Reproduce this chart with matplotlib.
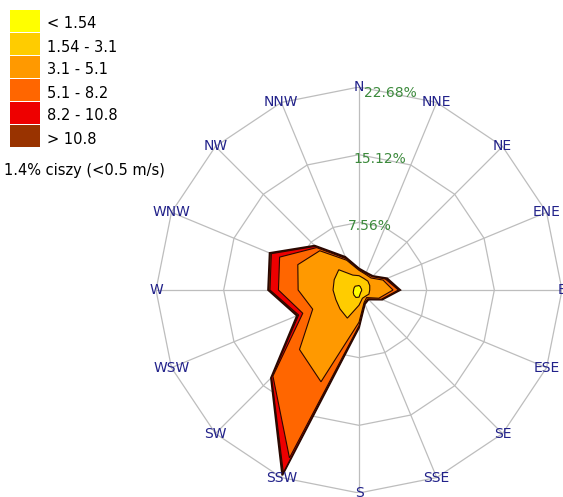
import numpy as np
import matplotlib
matplotlib.use("Agg")
from matplotlib import pyplot as plt
from matplotlib.patches import Rectangle

# wind directions, clockwise from north
dirs = ['N', 'NNE', 'NE', 'ENE', 'E', 'ESE', 'SE', 'SSE',
        'S', 'SSW', 'SW', 'WSW', 'W', 'WNW', 'NW', 'NNW']

# speed classes (m/s)
classes = ['< 1.54', '1.54 - 3.1', '3.1 - 5.1', '5.1 - 8.2', '8.2 - 10.8', '> 10.8']
colors = ['#ffff00', '#ffcc00', '#ff9900', '#ff6600', '#ee0000', '#993300']

# frequency [%] of each class per direction
f_lt154 = [0.5, 0.4, 0.3, 0.3, 0.3, 0.3, 0.3, 0.4, 0.8, 0.9, 0.8, 0.7, 0.6, 0.6, 0.6, 0.5]
f_154_31 = [1.1, 1.0, 1.1, 1.0, 0.9, 0.9, 0.7, 0.6, 0.9, 2.5, 2.2, 2.1, 2.3, 2.4, 2.6, 1.3]
f_31_51 = [0.6, 0.5, 0.5, 1.6, 2.6, 1.2, 0.2, 0.5, 1.9, 7.7, 6.4, 2.8, 3.9, 4.4, 3.0, 1.8]
f_51_82 = [0.1, 0.1, 0.2, 0.3, 0.6, 0.3, 0.2, 0.1, 0.4, 9.2, 4.2, 1.2, 2.2, 2.2, 0.5, 0.2]
f_82_108 = [0.05, 0.05, 0.05, 0.1, 0.1, 0.05, 0.05, 0.05, 0.1, 1.8, 0.2, 0.5, 0.95, 1.0, 0.2, 0.1]
f_gt108 = [0.05, 0.05, 0.05, 0.1, 0.1, 0.05, 0.05, 0.05, 0.1, 0.3, 0.1, 0.2, 0.2, 0.2, 0.1, 0.1]

calm_text = '1.4% ciszy (<0.5 m/s)'
rings = [7.56, 15.12, 22.68]
rmax = 22.68

W, H = 563, 497
fig = plt.figure(figsize=(W / 100, H / 100), dpi=100)
cx, cy, R = 359, 290, 203
ax = fig.add_axes([(cx - R) / W, 1 - (cy + R) / H, 2 * R / W, 2 * R / H])
ax.set_xlim(-rmax, rmax)
ax.set_ylim(-rmax, rmax)
ax.axis('off')

theta = np.deg2rad(np.arange(16) * 22.5)
tc = np.append(theta, theta[0])

# grid: polygon rings and spokes
for r in rings:
    ax.plot(r * np.sin(tc), r * np.cos(tc), color='#bdbdbd', lw=0.9, zorder=1)
for t in theta:
    ax.plot([0, rmax * np.sin(t)], [0, rmax * np.cos(t)], color='#bdbdbd', lw=0.9, zorder=1)

# stacked rose, outer class drawn first
data = np.array([f_lt154, f_154_31, f_31_51, f_51_82, f_82_108, f_gt108])
cum = np.cumsum(data, axis=0)
for i in range(len(classes) - 1, -1, -1):
    r = cum[i]
    lw = 1.4 if i == len(classes) - 1 else 0.8
    ax.fill(r * np.sin(theta), r * np.cos(theta), facecolor=colors[i],
            edgecolor='#2a0800', lw=lw, zorder=2 + (5 - i))

# direction labels
for t, d in zip(theta, dirs):
    ax.text(rmax * np.sin(t), rmax * np.cos(t), d, ha='center', va='center',
            color='#22228a', fontsize=10, clip_on=False, zorder=10)

# ring labels
a = np.deg2rad(9)
for r in rings:
    ax.text(r * np.sin(a), r * np.cos(a) - 0.35, '%.2f%%' % r, ha='center', va='center',
            color='#3c8a3c', fontsize=10, zorder=10)

# legend
for i, (c, lab) in enumerate(zip(colors, classes)):
    y0 = 10 + i * 23
    fig.patches.append(Rectangle((10 / W, 1 - (y0 + 22) / H), 30 / W, 22 / H,
                                 transform=fig.transFigure, facecolor=c, edgecolor='none'))
    fig.text(47 / W, 1 - (y0 + 14) / H, lab, ha='left', va='center', fontsize=10.5, color='black')
fig.text(4 / W, 1 - 170 / H, calm_text, ha='left', va='center', fontsize=10.5, color='black')

fig.savefig('out.png', dpi=100)
